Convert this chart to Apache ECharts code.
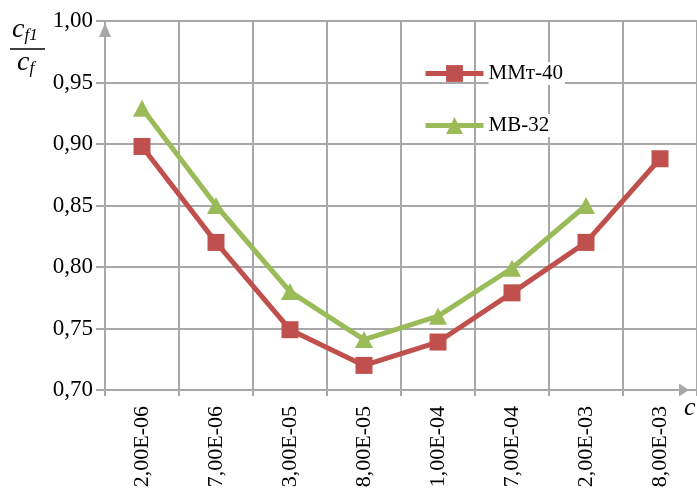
<!DOCTYPE html>
<html>
<head>
<meta charset="utf-8">
<script src="https://cdn.jsdelivr.net/npm/echarts@6/dist/echarts.min.js"></script>
<style>html,body{margin:0;padding:0;background:#fff}#c{width:697px;height:500px}</style>
</head>
<body>
<div id="c"></div>
<script>
const categories = ['2,00E-06','7,00E-06','3,00E-05','8,00E-05','1,00E-04','7,00E-04','2,00E-03','8,00E-03'];
const seriesNames = ['MMт-40','MB-32'];
const valuesMMt40 = [0.898, 0.820, 0.749, 0.720, 0.739, 0.779, 0.820, 0.888];
const valuesMB32 = [0.929, 0.850, 0.780, 0.741, 0.760, 0.799, 0.850, null];
const yTickLabels = {0.7:'0,70',0.75:'0,75',0.8:'0,80',0.85:'0,85',0.9:'0,90',0.95:'0,95',1:'1,00'};

const FONT = 'Liberation Serif';
const GRID = '#a8a8a8';
const ARROW = '#8e8e8e';
const chart = echarts.init(document.getElementById('c'), null, {renderer:'canvas'});
chart.setOption({
  animation:false,
  backgroundColor:'#fff',
  grid:{left:105, right:-8, top:21, bottom:110, containLabel:false},
  legend:{
    orient:'vertical', left:418, top:57, itemWidth:58, itemHeight:21, itemGap:29,
    textStyle:{fontFamily:FONT, fontSize:21, color:'#000', backgroundColor:'#fff', padding:[2,2,0,0]},
    data:[
      {name:seriesNames[0], lineStyle:{width:5, color:'#c0504d'}},
      {name:seriesNames[1], lineStyle:{width:5, color:'#9bbb59'}}
    ]
  },
  xAxis:{
    type:'category', data:categories, boundaryGap:true,
    axisLine:{lineStyle:{color:GRID, width:2}, symbol:['none','triangle'], symbolSize:[13,10], symbolOffset:[0,-13]},
    axisTick:{show:true, length:6, lineStyle:{color:GRID, width:2}},
    axisLabel:{rotate:90, margin:16, fontFamily:FONT, fontSize:22, color:'#000'},
    splitLine:{show:true, lineStyle:{color:GRID, width:2}}
  },
  yAxis:{
    type:'value', min:0.7, max:1.0, interval:0.05,
    axisLine:{show:true, lineStyle:{color:GRID, width:2}, symbol:['none','triangle'], symbolSize:[12,14], symbolOffset:[0,-9]},
    axisTick:{show:true, length:9, lineStyle:{color:GRID, width:2}},
    axisLabel:{margin:12, fontFamily:FONT, fontSize:23, color:'#000',
      formatter:v=>yTickLabels[Math.round(v*100)/100] || String(v.toFixed(2)).replace('.',',')},
    splitLine:{show:true, lineStyle:{color:GRID, width:2}}
  },
  series:[
    {name:seriesNames[0], type:'line', data:valuesMMt40, color:'#c0504d',
     symbol:'rect', symbolSize:17, lineStyle:{width:5, color:'#c0504d'}, itemStyle:{color:'#c0504d'}, z:3},
    {name:seriesNames[1], type:'line', data:valuesMB32, color:'#9bbb59',
     symbol:'triangle', symbolSize:[18,17], lineStyle:{width:5, color:'#9bbb59'}, itemStyle:{color:'#9bbb59'}, z:4}
  ],
  graphic:[
    {type:'text', left:12, top:16, style:{
      text:'{c|c}{s|f1}', rich:{
        c:{fontFamily:FONT, fontStyle:'italic', fontSize:28, fill:'#000'},
        s:{fontFamily:FONT, fontStyle:'italic', fontSize:17, fill:'#000', padding:[12,0,0,0]}
      }}},
    {type:'line', shape:{x1:10, y1:49, x2:45, y2:49}, style:{stroke:'#000', lineWidth:1.5}},
    {type:'text', left:17, top:49, style:{
      text:'{c|c}{s|f}', rich:{
        c:{fontFamily:FONT, fontStyle:'italic', fontSize:28, fill:'#000'},
        s:{fontFamily:FONT, fontStyle:'italic', fontSize:17, fill:'#000', padding:[12,0,0,0]}
      }}},
    {type:'text', left:684, top:395, style:{text:'c', fontFamily:FONT, fontStyle:'italic', fontSize:26, fill:'#000'}}
  ]
});
</script>
</body>
</html>
